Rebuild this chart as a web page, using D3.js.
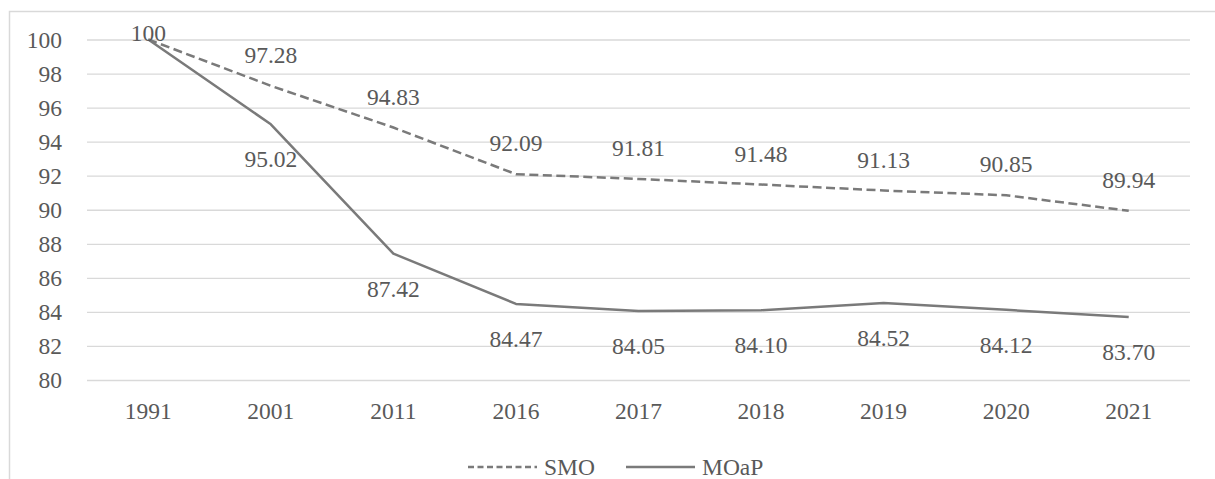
<!DOCTYPE html>
<html>
<head>
<meta charset="utf-8">
<script src="https://cdn.jsdelivr.net/npm/d3@7"></script>
</head>
<body style="margin:0;background:#fff">
<div id="chart"></div>
<script>
// data
var years = ["1991", "2001", "2011", "2016", "2017", "2018", "2019", "2020", "2021"];
var smo = [100, 97.28, 94.83, 92.09, 91.81, 91.48, 91.13, 90.85, 89.94];
var moap = [100, 95.02, 87.42, 84.47, 84.05, 84.10, 84.52, 84.12, 83.70];
var smoLabels = ["100", "97.28", "94.83", "92.09", "91.81", "91.48", "91.13", "90.85", "89.94"];
var moapLabels = ["", "95.02", "87.42", "84.47", "84.05", "84.10", "84.52", "84.12", "83.70"];
var yTicks = [80, 82, 84, 86, 88, 90, 92, 94, 96, 98, 100];
var seriesNames = ["SMO", "MOaP"];

var w = 1215, h = 479;
var frameTop = 11;
var plot = { left: 87, right: 1190, top: 39.5, bottom: 380 };
var font = "'Liberation Serif', 'DejaVu Serif', serif";
var fontSize = "23.5px";
var textColor = "#595959";
var lineColor = "#7a7a7a";

function styleText(sel) {
	sel.style("font-family", font)
		.style("font-size", fontSize)
		.style("fill", textColor);
}

var svg = d3.select("#chart")
	.append("svg")
	.attr("width", w)
	.attr("height", h)
	.style("display", "block");

//边框
svg.append("path")
	.attr("d", "M9.5," + (h + 5) + "V" + (frameTop + 0.5) + "H" + (w + 5))
	.style("fill", "none")
	.style("stroke", "#d9d9d9")
	.style("stroke-width", 1.5);

var xScale = d3.scaleBand()
	.domain(years)
	.range([plot.left, plot.right]);

var yScale = d3.scaleLinear()
	.domain([80, 100])
	.range([plot.bottom, plot.top]);

function cx(d) { return xScale(d) + xScale.bandwidth() / 2; }

//网格线
var yGrid = d3.axisLeft(yScale)
	.tickValues(yTicks)
	.tickSize(-(plot.right - plot.left))
	.tickFormat("");

var gridG = svg.append("g")
	.attr("transform", "translate(" + plot.left + ",0)")
	.call(yGrid);
gridG.select(".domain").remove();
gridG.selectAll("line")
	.style("stroke", "#d9d9d9")
	.style("stroke-width", 1.3);

//纵轴
var yAxis = d3.axisLeft(yScale)
	.tickValues(yTicks)
	.tickSize(0)
	.tickPadding(25);

var yBar = svg.append("g")
	.attr("transform", "translate(" + plot.left + ",0)")
	.call(yAxis);
yBar.select(".domain").remove();
yBar.selectAll("text").call(styleText);

//横轴
var xAxis = d3.axisBottom(xScale).tickSize(0).tickPadding(22);
var xBar = svg.append("g")
	.attr("transform", "translate(0," + plot.bottom + ")")
	.call(xAxis);
xBar.select(".domain").remove();
xBar.selectAll("text").call(styleText);

//折线
var line = d3.line()
	.x(function(d, i) { return cx(years[i]); })
	.y(function(d) { return yScale(d); });

svg.append("path")
	.attr("d", line(moap))
	.style("fill", "none")
	.style("stroke", lineColor)
	.style("stroke-width", 2.5)
	.style("stroke-linejoin", "round");

svg.append("path")
	.attr("d", line(smo))
	.style("fill", "none")
	.style("stroke", lineColor)
	.style("stroke-width", 2.5)
	.style("stroke-dasharray", "9,4.5");

//数据标签
svg.append("g").selectAll("text")
	.data(smo)
	.enter()
	.append("text")
	.attr("x", function(d, i) { return cx(years[i]); })
	.attr("y", function(d) { return Math.max(yScale(d) - 31, frameTop + 22); })
	.attr("text-anchor", "middle")
	.attr("dominant-baseline", "central")
	.call(styleText)
	.text(function(d, i) { return smoLabels[i]; });

svg.append("g").selectAll("text")
	.data(moap)
	.enter()
	.append("text")
	.attr("x", function(d, i) { return cx(years[i]); })
	.attr("y", function(d) { return yScale(d) + 35; })
	.attr("text-anchor", "middle")
	.attr("dominant-baseline", "central")
	.call(styleText)
	.text(function(d, i) { return moapLabels[i]; });

//图例
var legend = svg.append("g").attr("transform", "translate(0,467)");
var legendX = [468, 626];
seriesNames.forEach(function(name, i) {
	legend.append("line")
		.attr("x1", legendX[i])
		.attr("x2", legendX[i] + 69)
		.attr("y1", 0)
		.attr("y2", 0)
		.style("stroke", lineColor)
		.style("stroke-width", 2.5)
		.style("stroke-dasharray", i == 0 ? "6,3.5" : null);
	legend.append("text")
		.attr("x", legendX[i] + 76)
		.attr("y", 0)
		.attr("dominant-baseline", "central")
		.call(styleText)
		.text(name);
});
</script>
</body>
</html>
